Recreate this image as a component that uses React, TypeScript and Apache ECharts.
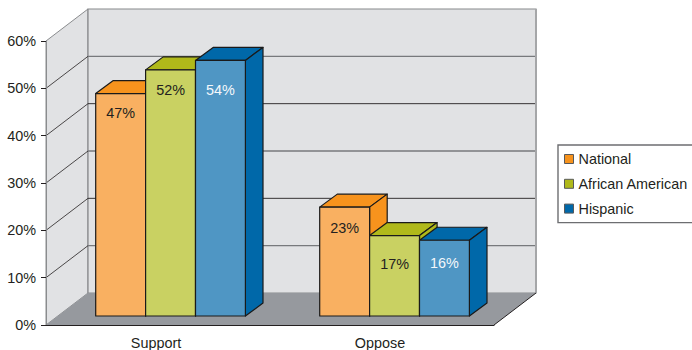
import React, { useEffect, useRef } from "react";
import * as echarts from "echarts";

const categories = ["Support", "Oppose"];
const seriesNames = ["National", "African American", "Hispanic"];
const national = [47, 23];
const africanAmerican = [52, 17];
const hispanic = [54, 16];
const yTicks = [0, 10, 20, 30, 40, 50, 60];

// Vertical position of each value label, in pixels below the top of its bar.
const labelDrops = [
  [19, 21],
  [20, 28],
  [30, 23],
];

const FONT = '"Liberation Sans", Arial, sans-serif';
const FONT_SIZE = 14.4;
const INK = "#231f20";
const FACE = ["#f9b061", "#c9d162", "#4f96c4"];
const SHADE = ["#f7931d", "#b0b91a", "#0068a9"];
const LABEL = [INK, INK, "#f4f8fb"];

// Oblique projection of the chart box and of the bars standing inside it.
const BOX_DX = 42;
const BOX_DY = 32;
const BAR_DX = 17.6;
const BAR_DY = 13;
const BAR_W = 49.9;
const BAR_LEFT = -62.3;
const BAR_LIFT = 9;

const box = (params: any, api: any) => {
  const { x, width } = params.coordSys;
  const right = x + width;
  const y0 = api.coord([0, 0])[1];
  const yTop = api.coord([0, 60])[1];
  const children: any[] = [
    {
      type: "polygon",
      shape: { points: [[x, y0], [x + BOX_DX, y0 - BOX_DY], [x + BOX_DX, yTop - BOX_DY], [x, yTop]] },
      style: { fill: "#e1e2e4", stroke: "#8a8c8e", lineWidth: 1 },
    },
    {
      type: "rect",
      shape: { x: x + BOX_DX, y: yTop - BOX_DY, width: width, height: y0 - yTop },
      style: { fill: "#e1e2e4", stroke: "#87898b", lineWidth: 1.2 },
    },
    {
      type: "line",
      shape: { x1: right + BOX_DX, y1: yTop - BOX_DY, x2: right + BOX_DX, y2: y0 - BOX_DY },
      style: { stroke: "#a5a6a8", lineWidth: 2 },
    },
    {
      type: "polygon",
      shape: { points: [[x, y0], [x + BOX_DX, y0 - BOX_DY], [right + BOX_DX, y0 - BOX_DY], [right, y0]] },
      style: { fill: "#96999e" },
    },
    {
      type: "line",
      shape: { x1: right, y1: y0, x2: right + BOX_DX, y2: y0 - BOX_DY },
      style: { stroke: "#231f20", lineWidth: 1 },
    },
  ];
  yTicks.slice(1, -1).forEach((tick, i) => {
    const y = api.coord([0, tick])[1];
    children.push({
      type: "line",
      shape: { x1: x, y1: y, x2: x + BOX_DX, y2: y - BOX_DY },
      style: { stroke: "#231f20", lineWidth: 0.8 },
    });
    children.push({
      type: "line",
      shape: { x1: x + BOX_DX, y1: y - BOX_DY, x2: right + BOX_DX - 1, y2: y - BOX_DY },
      style: i % 2 === 0 ? { stroke: "#77797c", lineWidth: 1.4 } : { stroke: "#231f20", lineWidth: 0.9 },
    });
  });
  return { type: "group", children };
};

const bar = (s: number) => (params: any, api: any) => {
  const cat = api.value(0);
  const value = api.value(1);
  const [cx, base] = api.coord([cat, 0]);
  const top = api.coord([cat, value])[1] - BAR_LIFT;
  const bottom = base - BAR_LIFT;
  const left = cx + BAR_LEFT + s * BAR_W;
  const right = left + BAR_W;
  const edge = { stroke: "#1a1a1a", lineWidth: 1.2, lineJoin: "round" };
  return {
    type: "group",
    children: [
      {
        type: "polygon",
        shape: { points: [[left, top], [left + BAR_DX, top - BAR_DY], [right + BAR_DX, top - BAR_DY], [right, top]] },
        style: { fill: SHADE[s], ...edge },
      },
      {
        type: "polygon",
        shape: { points: [[right, top], [right + BAR_DX, top - BAR_DY], [right + BAR_DX, bottom - BAR_DY], [right, bottom]] },
        style: { fill: SHADE[s], ...edge },
      },
      {
        type: "rect",
        shape: { x: left, y: top, width: BAR_W, height: bottom - top },
        style: { fill: FACE[s], ...edge },
      },
      {
        type: "text",
        style: {
          text: `${value}%`,
          x: left + BAR_W / 2,
          y: top + labelDrops[s][cat],
          align: "center",
          verticalAlign: "middle",
          fill: LABEL[s],
          font: `${FONT_SIZE}px ${FONT}`,
        },
      },
    ],
  };
};

export default function App() {
  const ref = useRef<HTMLDivElement>(null);

  useEffect(() => {
    const chart = echarts.init(ref.current!, null, { renderer: "svg" });
    const values = [national, africanAmerican, hispanic];
    chart.setOption({
      animation: false,
      backgroundColor: "#ffffff",
      grid: { left: 46, top: 41, width: 448, height: 284 },
      textStyle: { fontFamily: FONT },
      xAxis: {
        type: "category",
        data: categories,
        z: 5,
        axisLine: { lineStyle: { color: "#231f20", width: 1 } },
        axisTick: { length: 5, lineStyle: { color: "#231f20" } },
        axisLabel: { color: INK, fontSize: FONT_SIZE, fontFamily: FONT, margin: 11, padding: [0, 4, 0, 0] },
      },
      yAxis: {
        type: "value",
        min: 0,
        max: 60,
        interval: 10,
        z: 5,
        splitLine: { show: false },
        axisLine: { show: true, lineStyle: { color: "#8a8c8e", width: 1 } },
        axisTick: { show: true, length: 5, lineStyle: { color: "#231f20" } },
        axisLabel: { color: INK, fontSize: FONT_SIZE, fontFamily: FONT, margin: 10, formatter: "{value}%" },
      },
      legend: {
        orient: "vertical",
        left: 558,
        top: 145,
        padding: [7, 14, 7, 6],
        itemWidth: 9,
        itemHeight: 9,
        itemGap: 10.8,
        icon: "rect",
        selectedMode: false,
        backgroundColor: "#ffffff",
        borderColor: "#6d6e71",
        borderWidth: 1.4,
        borderRadius: 0,
        data: seriesNames,
        itemStyle: { borderColor: "#58595b", borderWidth: 1 },
        textStyle: { color: INK, fontSize: FONT_SIZE, fontFamily: FONT },
      },
      series: [
        {
          type: "custom",
          silent: true,
          renderItem: box,
          data: [[0, 0]],
          encode: { x: 0, y: 1 },
          z: 1,
        },
        ...seriesNames.map((name, s) => ({
          type: "custom",
          name,
          renderItem: bar(s),
          itemStyle: { color: SHADE[s] },
          data: values[s].map((v, i) => [i, v]),
          encode: { x: 0, y: 1 },
          z: 2,
        })),
      ],
    });
    return () => chart.dispose();
  }, []);

  return <div ref={ref} style={{ position: "fixed", left: 0, top: 0, width: 692, height: 350, overflow: "hidden" }} />;
}
